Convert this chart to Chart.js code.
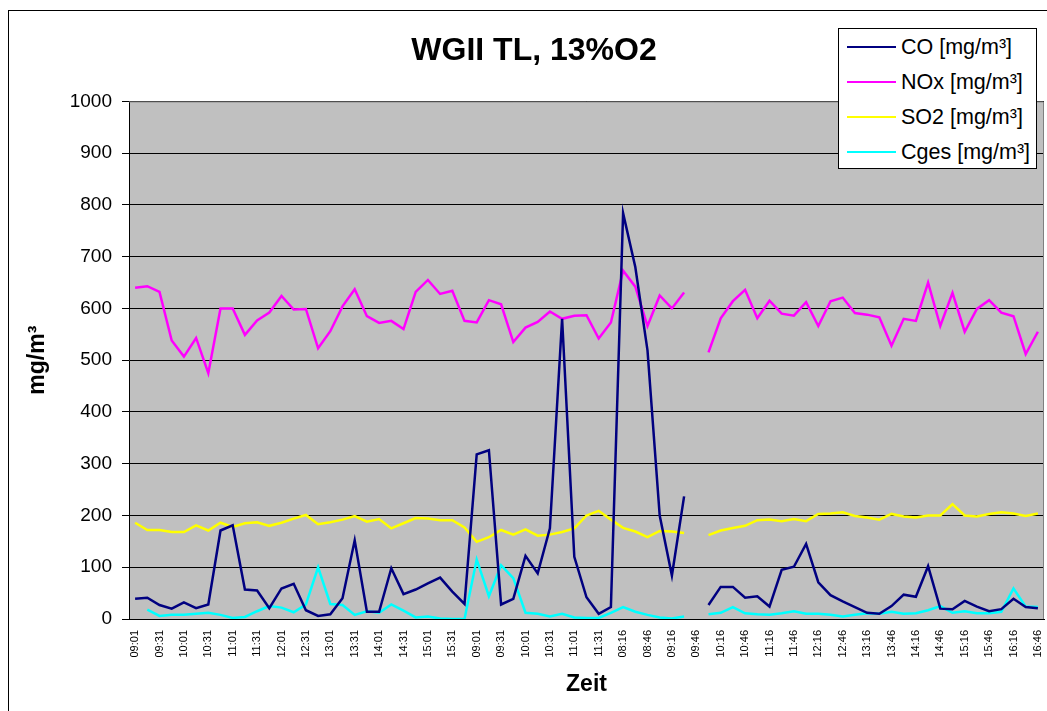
<!DOCTYPE html>
<html lang="de">
<head>
  <meta charset="UTF-8" />
  <title>WGII TL, 13%O2</title>
  <script src="https://cdn.jsdelivr.net/npm/chart.js"></script>
  <style>
    html, body {
      margin: 0;
      padding: 0;
      background: #ffffff;
      overflow: hidden;
    }

    .frame {
      position: absolute;
      left: 8px;
      top: 10px;
      width: 1100px;
      height: 800px;
      border: 1px solid #000;
    }

    .chart-container {
      position: absolute;
      left: 0;
      top: 0;
      width: 1047px;
      height: 711px;
    }

    #legend {
      position: absolute;
      left: 838px;
      top: 28px;
      width: 197px;
      height: 139px;
      border: 1px solid #000;
      background: #fff;
      font-family: Arial, 'Liberation Sans', sans-serif;
      font-size: 21.5px;
    }

    .legend-item {
      position: absolute;
      left: 8px;
      height: 24px;
      line-height: 24px;
      white-space: nowrap;
    }

    .legend-item span.swatch {
      display: inline-block;
      width: 49px;
      height: 2px;
      vertical-align: middle;
      margin-right: 5px;
      position: relative;
      top: -1px;
    }
  </style>
</head>
<body>
  <div class="frame"></div>
  <div class="chart-container">
    <canvas id="chart"></canvas>
  </div>
  <div id="legend"></div>

  <script>
    // Zeitachse (jeder zweite Wert wird beschriftet)
    const zeit = [
      '09:01', '09:16', '09:31', '09:46', '10:01', '10:16', '10:31', '10:46', '11:01', '11:16',
      '11:31', '11:46', '12:01', '12:16', '12:31', '12:46', '13:01', '13:16', '13:31', '13:46',
      '14:01', '14:16', '14:31', '14:46', '15:01', '15:16', '15:31', '15:46',
      '09:01', '09:16', '09:31', '09:46', '10:01', '10:16', '10:31', '10:46', '11:01', '11:16',
      '11:31', '11:46',
      '08:16', '08:31', '08:46', '09:01', '09:16', '09:31', '09:46', '10:01', '10:16', '10:31',
      '10:46', '11:01', '11:16', '11:31', '11:46', '12:01', '12:16', '12:31', '12:46', '13:01',
      '13:16', '13:31', '13:46', '14:01', '14:16', '14:31', '14:46', '15:01', '15:16', '15:31',
      '15:46', '16:01', '16:16', '16:31', '16:46'
    ];

    const co = [
      39, 41, 27, 20, 32, 21, 28, 171, 181, 57,
      55, 21, 59, 68, 17, 6, 9, 40, 152, 14,
      14, 98, 48, 57, 69, 80, 53, 29,
      318, 326, 28, 39, 122, 88, 175, 580, 120, 42,
      10, 23,
      784, 680, 519, 200, 84, 237, null, 27, 62, 62,
      41, 44, 24, 95, 101, 145, 71, 46, 34, 23,
      12, 10, 25, 47, 43, 102, 20, 19, 35, 24,
      15, 19, 39, 23, 21
    ];

    const nox = [
      640, 643, 632, 538, 507, 543, 475, 600, 600, 549,
      577, 592, 624, 598, 599, 523, 556, 604, 637, 585,
      572, 576, 560, 632, 655, 628, 634, 576,
      573, 616, 608, 535, 563, 574, 594, 580, 586, 587,
      542, 573,
      673, 642, 566, 625, 600, 631, null, 515, 581, 614,
      636, 581, 615, 590, 586, 612, 566, 614, 621, 591,
      588, 583, 528, 580, 576, 650, 566, 630, 555, 599,
      616, 592, 585, 512, 555
    ];

    const so2 = [
      186, 172, 172, 168, 168, 181, 171, 186, 178, 185,
      187, 180, 186, 194, 201, 183, 187, 192, 199, 188,
      193, 175, 185, 195, 194, 191, 191, 177,
      149, 158, 172, 163, 173, 161, 163, 168, 175, 200,
      209, 192,
      176, 169, 158, 170, 169, 166, null, 162, 171, 176,
      180, 191, 192, 189, 193, 189, 203, 204, 206, 199,
      196, 192, 203, 198, 196, 200, 200, 222, 200, 198,
      203, 206, 204, 199, 204
    ];

    const cges = [
      null, 18, 6, 8, 8, 10, 12, 8, 2, 4,
      15, 25, 22, 13, 28, 100, 29, 27, 8, 15,
      12, 28, 16, 3, 5, 1, 0, 0,
      115, 44, 104, 79, 12, 10, 5, 10, 3, 2,
      2, 12,
      23, 14, 8, 3, 1, 5, null, 9, 12, 23,
      11, 9, 8, 11, 15, 10, 10, 8, 5, 8,
      11, 10, 14, 10, 11, 17, 25, 12, 15, 11,
      11, 14, 59, 24, 23
    ];

    const yTicks = [0, 100, 200, 300, 400, 500, 600, 700, 800, 900, 1000];

    const series = [
      { name: 'CO [mg/m³]', data: co, color: '#000080' },
      { name: 'NOx [mg/m³]', data: nox, color: '#FF00FF' },
      { name: 'SO2 [mg/m³]', data: so2, color: '#FFFF00' },
      { name: 'Cges [mg/m³]', data: cges, color: '#00FFFF' }
    ];

    const FONT = 'Arial, "Liberation Sans", sans-serif';

    // grauer Hintergrund + Rahmen der Zeichenfläche
    const plotArea = {
      id: 'plotArea',
      beforeDraw(chart) {
        const { ctx, chartArea: a } = chart;
        ctx.save();
        ctx.fillStyle = '#C0C0C0';
        ctx.fillRect(a.left, a.top, a.right - a.left, a.bottom - a.top);
        ctx.restore();
      },
      afterDraw(chart) {
        const { ctx, chartArea: a } = chart;
        ctx.save();
        ctx.strokeStyle = '#808080';
        ctx.lineWidth = 1;
        ctx.beginPath();
        ctx.moveTo(a.left, a.top + 0.5);
        ctx.lineTo(a.right - 0.5, a.top + 0.5);
        ctx.lineTo(a.right - 0.5, a.bottom);
        ctx.stroke();
        ctx.restore();
      }
    };

    new Chart(document.getElementById('chart'), {
      type: 'line',
      data: {
        labels: zeit,
        datasets: series.map(s => ({
          label: s.name,
          data: s.data,
          borderColor: s.color,
          backgroundColor: s.color,
          borderWidth: 2.5,
          pointRadius: 0,
          tension: 0,
          spanGaps: false
        }))
      },
      options: {
        responsive: true,
        maintainAspectRatio: false,
        animation: false,
        layout: { autoPadding: false, padding: { left: 24, right: 3, top: 0, bottom: 0 } },
        plugins: {
          legend: { display: false },
          tooltip: { enabled: false },
          title: {
            display: true,
            text: 'WGII TL, 13%O2',
            color: '#000',
            font: { family: FONT, size: 32, weight: 'bold' },
            padding: { top: 32, bottom: 31 }
          }
        },
        scales: {
          x: {
            type: 'category',
            offset: true,
            grid: { display: false, drawTicks: false },
            border: { display: true, color: '#000', width: 1 },
            ticks: {
              autoSkip: false,
              maxRotation: 90,
              minRotation: 90,
              padding: 11,
              color: '#000',
              font: { family: FONT, size: 11 },
              callback: (v, i) => (i % 2 === 0 ? zeit[i] : '')
            },
            title: {
              display: true,
              text: 'Zeit',
              color: '#000',
              font: { family: FONT, size: 23, weight: 'bold' },
              padding: { top: 0, bottom: 13 }
            },
            afterFit(scale) {
              scale.height = 92;
              scale.paddingLeft = 0;
              scale.paddingRight = 0;
            }
          },
          y: {
            min: 0,
            max: 1000,
            afterBuildTicks(scale) { scale.ticks = yTicks.map(v => ({ value: v })); },
            grid: { color: '#000', lineWidth: 1, tickLength: 7, drawTicks: true },
            border: { display: true, color: '#000', width: 1 },
            ticks: {
              padding: 10,
              color: '#000',
              font: { family: FONT, size: 19 },
              callback: v => String(v)
            },
            title: {
              display: true,
              text: 'mg/m³',
              color: '#000',
              font: { family: FONT, size: 23, weight: 'bold' },
              padding: { top: 0, bottom: 0 }
            },
            afterFit(scale) {
              scale.width = 105;
              scale.paddingTop = 0;
              scale.paddingBottom = 0;
            }
          }
        }
      },
      plugins: [plotArea]
    });

    // Legende
    const legend = document.getElementById('legend');
    series.forEach((s, i) => {
      const item = document.createElement('div');
      item.className = 'legend-item';
      item.style.top = (6 + i * 35) + 'px';
      item.innerHTML = '<span class="swatch" style="background:' + s.color + '"></span>' + s.name;
      legend.appendChild(item);
    });
  </script>
</body>
</html>
